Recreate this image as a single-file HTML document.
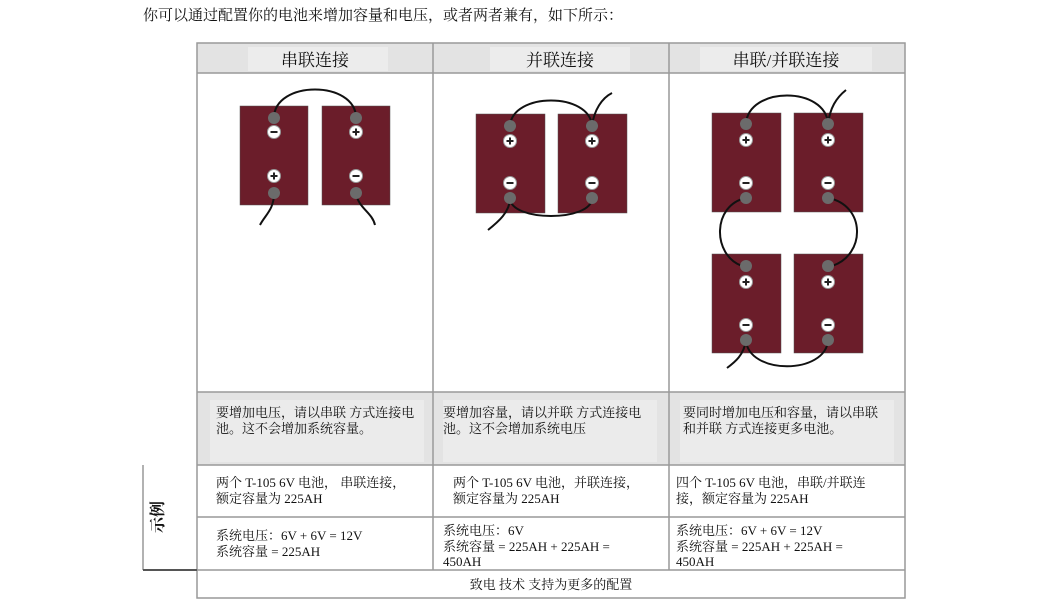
<!DOCTYPE html><html><head><meta charset="utf-8"><style>
body{margin:0;background:#fff;width:1062px;height:611px;overflow:hidden;font-family:"Liberation Serif","Noto Serif CJK SC","Noto Sans CJK SC",serif;}
svg text{font-family:"Liberation Serif","Noto Serif CJK SC","Noto Sans CJK SC",serif;fill:#111}
</style></head><body>
<svg width="1062" height="611" viewBox="0 0 1062 611" xmlns="http://www.w3.org/2000/svg">
<defs>
<g id="p"><circle r="6.5" fill="#fff" stroke="#999"/><path d="M-3.5 0H3.5M0 -3.5V3.5" stroke="#222" stroke-width="2"/></g>
<g id="m"><circle r="6.5" fill="#fff" stroke="#999"/><path d="M-3.5 0H3.5" stroke="#222" stroke-width="2"/></g>
<g id="t"><circle r="6" fill="#6b6b6b"/></g>
</defs>
<text x="143" y="20" font-size="15">你可以通过配置你的电池来增加容量和电压，或者两者兼有，如下所示：</text>
<rect x="197" y="43" width="708" height="30" fill="#e3e3e3"/>
<rect x="248" y="47" width="140" height="24" fill="#ececec"/>
<rect x="490" y="47" width="140" height="24" fill="#ececec"/>
<rect x="700" y="47" width="172" height="24" fill="#ececec"/>
<text x="315" y="66" font-size="17" text-anchor="middle" font-family="Liberation Sans,Noto Sans CJK SC,sans-serif">串联连接</text>
<text x="560" y="66" font-size="17" text-anchor="middle" font-family="Liberation Sans,Noto Sans CJK SC,sans-serif">并联连接</text>
<text x="786" y="66" font-size="17" text-anchor="middle" font-family="Liberation Sans,Noto Sans CJK SC,sans-serif">串联/并联连接</text>
<rect x="197" y="392" width="708" height="73" fill="#e3e3e3"/>
<rect x="210" y="400" width="214" height="62" fill="#ebebeb"/>
<rect x="443" y="400" width="214" height="62" fill="#ebebeb"/>
<rect x="680" y="400" width="214" height="62" fill="#ebebeb"/>
<g font-size="13">
<text x="216" y="417">要增加电压，请以串联 方式连接电</text><text x="216" y="433">池。这不会增加系统容量。</text>
<text x="443" y="417">要增加容量，请以并联 方式连接电</text><text x="443" y="433">池。这不会增加系统电压</text>
<text x="683" y="417">要同时增加电压和容量，请以串联</text><text x="683" y="433">和并联 方式连接更多电池。</text>
<text x="216" y="487">两个 T-105 6V 电池， 串联连接，</text><text x="216" y="503">额定容量为 225AH</text>
<text x="453" y="487">两个 T-105 6V 电池，并联连接，</text><text x="453" y="503">额定容量为 225AH</text>
<text x="676" y="487">四个 T-105 6V 电池，串联/并联连</text><text x="676" y="503">接，额定容量为 225AH</text>
<text x="216" y="540">系统电压：6V + 6V = 12V</text><text x="216" y="556">系统容量 = 225AH</text>
<text x="443" y="535">系统电压：6V</text><text x="443" y="551">系统容量 = 225AH + 225AH =</text><text x="443" y="566">450AH</text>
<text x="676" y="535">系统电压：6V + 6V = 12V</text><text x="676" y="551">系统容量 = 225AH + 225AH =</text><text x="676" y="566">450AH</text>
<text x="551" y="589" text-anchor="middle">致电 技术 支持为更多的配置</text>
<text transform="translate(163,517) rotate(-90)" text-anchor="middle" font-size="16" font-weight="bold">示例</text>
</g>
<g stroke="#999" stroke-width="1.5" fill="none">
<rect x="197" y="43" width="708" height="555"/>
<path d="M433 43V517M669 43V517M197 73H905M197 392H905M197 465H905M197 517H905M143 570H905M143 465V570"/>
<path d="M433 517V570M669 517V570"/>
</g>
<path d="M143 570H197" stroke="#555" stroke-width="2"/>
<g fill="#6b1d2a" stroke="#555" stroke-width="0.5">
<rect x="240" y="106" width="68" height="99"/><rect x="322" y="106" width="68" height="99"/>
<rect x="476" y="114" width="69" height="99"/><rect x="558" y="114" width="69" height="99"/>
<rect x="712" y="113" width="69" height="99"/><rect x="794" y="113" width="69" height="99"/>
<rect x="712" y="254" width="69" height="99"/><rect x="794" y="254" width="69" height="99"/>
</g>
<g fill="none" stroke="#111" stroke-width="2">
<path d="M274 118C274 80 356 80 356 118"/><path d="M274 193C274 210 265 215 260 225"/><path d="M356 193C358 208 372 212 375 225"/>
<path d="M510 126C512 92 590 92 592 126C594 110 602 98 612 93"/><path d="M510 198C510 222 592 222 592 198"/><path d="M510 198C510 212 498 222 488 230"/>
<path d="M746 124C748 86 826 86 828 124C830 108 836 98 846 90"/>
<path d="M746 198C712 205 712 255 742 266"/><path d="M828 198C866 205 866 255 832 266"/>
<path d="M746 340C748 375 826 375 828 340"/><path d="M746 340C744 355 735 362 727 368"/>
</g>
<use href="#t" x="274" y="118"/><use href="#m" x="274" y="132"/><use href="#p" x="274" y="176"/><use href="#t" x="274" y="193"/>
<use href="#t" x="356" y="118"/><use href="#p" x="356" y="132"/><use href="#m" x="356" y="176"/><use href="#t" x="356" y="193"/>
<use href="#t" x="510" y="126"/><use href="#p" x="510" y="141"/><use href="#m" x="510" y="183"/><use href="#t" x="510" y="198"/>
<use href="#t" x="592" y="126"/><use href="#p" x="592" y="141"/><use href="#m" x="592" y="183"/><use href="#t" x="592" y="198"/>
<use href="#t" x="746" y="124"/><use href="#p" x="746" y="140"/><use href="#m" x="746" y="183"/><use href="#t" x="746" y="198"/>
<use href="#t" x="828" y="124"/><use href="#p" x="828" y="140"/><use href="#m" x="828" y="183"/><use href="#t" x="828" y="198"/>
<use href="#t" x="746" y="266"/><use href="#p" x="746" y="282"/><use href="#m" x="746" y="325"/><use href="#t" x="746" y="340"/>
<use href="#t" x="828" y="266"/><use href="#p" x="828" y="282"/><use href="#m" x="828" y="325"/><use href="#t" x="828" y="340"/>
</svg>
</body></html>
